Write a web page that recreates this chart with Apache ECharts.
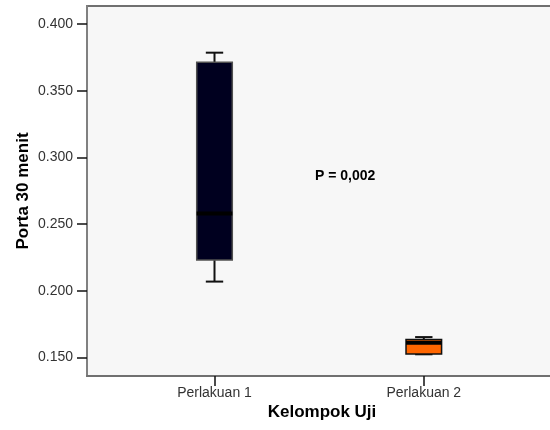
<!DOCTYPE html>
<html>
<head>
<meta charset="utf-8">
<script src="https://cdn.jsdelivr.net/npm/echarts@6/dist/echarts.min.js"></script>
<style>html,body{margin:0;padding:0;background:#fff;}#c{width:550px;height:430px;}</style>
</head>
<body>
<div id="c"></div>
<script>
var categories = ['Perlakuan 1', 'Perlakuan 2'];
var positions = [1, 2];
var mins = [0.2069, 0.1524];
var q1s = [0.2230, 0.1527];
var medians = [0.2580, 0.1610];
var q3s = [0.3713, 0.1634];
var maxs = [0.3785, 0.1653];
var yTicks = [0.150, 0.200, 0.250, 0.300, 0.350, 0.400];
var annotation = 'P = 0,002';

var fills = ['#00001f', '#ff6600'];
var strokes = ['#505050', '#111111'];
var FONT = 'Liberation Sans, Arial, sans-serif';

var data = positions.map(function (p, i) {
  return [p, mins[i], q1s[i], medians[i], q3s[i], maxs[i]];
});

var chart = echarts.init(document.getElementById('c'));
chart.setOption({
  animation: false,
  backgroundColor: '#ffffff',
  grid: {
    left: 87, top: 6, width: 470, height: 370, outerBoundsMode: 'none', containLabel: false,
    show: true, backgroundColor: '#f7f7f7', borderColor: '#707070', borderWidth: 2
  },
  xAxis: {
    type: 'value', min: 0.3908, max: 2.6364,
    name: 'Kelompok Uji', nameLocation: 'middle', nameGap: 28, nameMoveOverlap: false,
    nameTextStyle: { fontFamily: FONT, fontSize: 17, fontWeight: 'bold', color: '#000' },
    axisLine: { show: true, lineStyle: { color: '#707070', width: 2 } },
    splitLine: { show: false },
    axisTick: { show: true, customValues: positions, length: 10, lineStyle: { color: '#111', width: 1.5 } },
    axisLabel: {
      customValues: positions, margin: 10, fontFamily: FONT, fontSize: 14, color: '#333',
      formatter: function (v) { var i = positions.indexOf(Math.round(v)); return i >= 0 ? categories[i] : ''; }
    }
  },
  yAxis: {
    type: 'value', min: 0.13613, max: 0.41349,
    name: 'Porta 30 menit', nameLocation: 'middle', nameGap: 55, nameMoveOverlap: false,
    nameTextStyle: { fontFamily: FONT, fontSize: 17, fontWeight: 'bold', color: '#000' },
    axisLine: { show: true, lineStyle: { color: '#808080', width: 2 } },
    splitLine: { show: false },
    axisTick: { show: true, customValues: yTicks, length: 10, lineStyle: { color: '#111', width: 1.5 } },
    axisLabel: {
      customValues: yTicks, margin: 14, fontFamily: FONT, fontSize: 14, color: '#333',
      formatter: function (v) { return v.toFixed(3); }
    }
  },
  series: [{
    type: 'custom',
    data: data,
    encode: { x: 0, y: [1, 2, 3, 4, 5] },
    renderItem: function (params, api) {
      var x = api.value(0);
      var pMin = api.coord([x, api.value(1)]);
      var pQ1 = api.coord([x, api.value(2)]);
      var pMed = api.coord([x, api.value(3)]);
      var pQ3 = api.coord([x, api.value(4)]);
      var pMax = api.coord([x, api.value(5)]);
      var bw = api.size([0.170, 0])[0];
      var cw = api.size([0.083, 0])[0];
      var cx = pMin[0];
      var i = params.dataIndex;
      var ls = { stroke: '#111', lineWidth: 2 };
      return {
        type: 'group',
        children: [
          { type: 'line', shape: { x1: cx, y1: pMax[1], x2: cx, y2: pQ3[1] }, style: ls },
          { type: 'line', shape: { x1: cx, y1: pQ1[1], x2: cx, y2: pMin[1] }, style: ls },
          { type: 'line', shape: { x1: cx - cw / 2, y1: pMax[1], x2: cx + cw / 2, y2: pMax[1] }, style: ls },
          { type: 'line', shape: { x1: cx - cw / 2, y1: pMin[1], x2: cx + cw / 2, y2: pMin[1] }, style: ls },
          { type: 'rect', shape: { x: cx - bw / 2, y: pQ3[1], width: bw, height: pQ1[1] - pQ3[1] },
            style: { fill: fills[i], stroke: strokes[i], lineWidth: 1.5 } },
          { type: 'line', shape: { x1: cx - bw / 2, y1: pMed[1], x2: cx + bw / 2, y2: pMed[1] },
            style: { stroke: '#000', lineWidth: 4 } }
        ]
      };
    }
  }],
  graphic: [{
    type: 'text', x: 315, y: 176,
    style: { text: annotation, font: 'bold 14px ' + FONT, fill: '#000', verticalAlign: 'middle', align: 'left' }
  }]
});
</script>
</body>
</html>
